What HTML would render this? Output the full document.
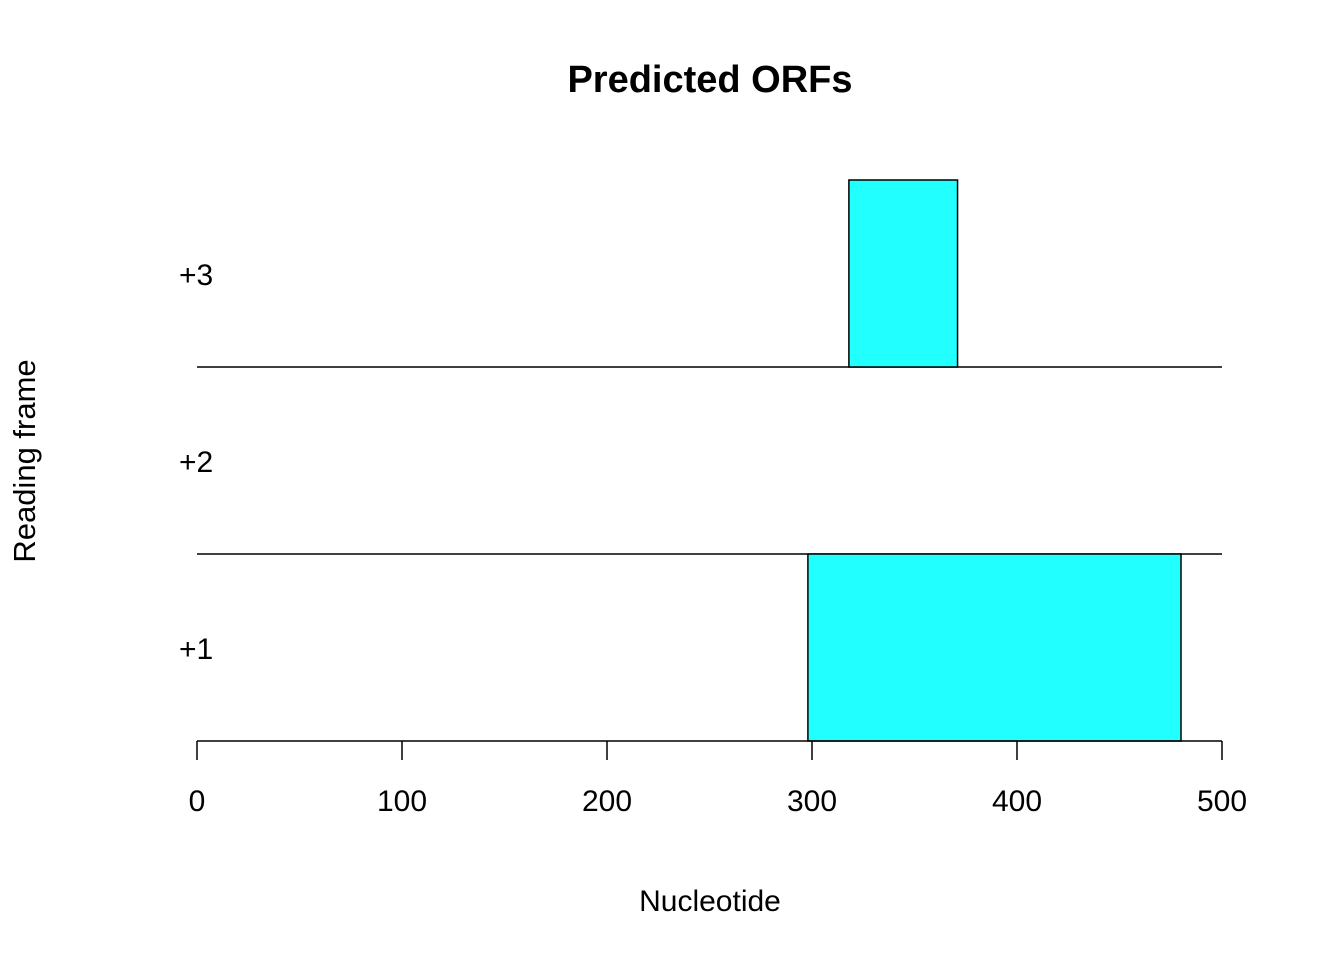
<!DOCTYPE html>
<html><head><meta charset="utf-8"><style>
html,body{margin:0;padding:0;background:#fff;}
svg{display:block;font-family:"Liberation Sans",Arial,sans-serif;}
</style></head><body>
<svg id="chart" width="1344" height="960">
<text x="710" y="92" text-anchor="middle" font-size="38" font-weight="bold">Predicted ORFs</text>
<text x="710" y="911" text-anchor="middle" font-size="30">Nucleotide</text>
<text transform="translate(35,461) rotate(-90)" text-anchor="middle" font-size="31">Reading frame</text>
<g id="plot"></g>
</svg>
<script>
const frames = ["+1","+2","+3"];
const orfStarts = [298, null, 318];
const orfEnds = [480, null, 371];
const xTicks = [0,100,200,300,400,500];

const NS="http://www.w3.org/2000/svg";
const g=document.getElementById('plot');
const x0=197,x1=1222,xmin=0,xmax=500;
const X=v=>x0+(v-xmin)/(xmax-xmin)*(x1-x0);
const base=741,fh=187;
const Y=i=>base-i*fh;
function mk(t,a){const e=document.createElementNS(NS,t);for(const k in a)e.setAttribute(k,a[k]);g.appendChild(e);return e;}
for(let i=1;i<frames.length;i++){
  const l=mk('line',{x1:X(0),x2:X(500),y1:Y(i),y2:Y(i),stroke:'#000','stroke-width':1.5});
  
  
}
frames.forEach((f,i)=>{
  const t=mk('text',{x:179,y:Y(i)-82,'font-size':30});
  t.textContent=f;
  
  
  if(orfStarts[i]!=null){
    const r=mk('rect',{x:X(orfStarts[i]),y:Y(i)-fh,width:X(orfEnds[i])-X(orfStarts[i]),height:fh,fill:'#22ffff',stroke:'#000','stroke-width':1.5});
    
    
  }
});
const ax=mk('line',{x1:X(0),x2:X(500),y1:base,y2:base,stroke:'#000','stroke-width':1.5});


xTicks.forEach(v=>{
  const tk=mk('line',{x1:X(v),x2:X(v),y1:base,y2:base+19,stroke:'#000','stroke-width':1.5});
  
  
  const t=mk('text',{x:X(v),y:811,'text-anchor':'middle','font-size':30});
  t.textContent=v;
  
  
});
</script>
</body></html>
